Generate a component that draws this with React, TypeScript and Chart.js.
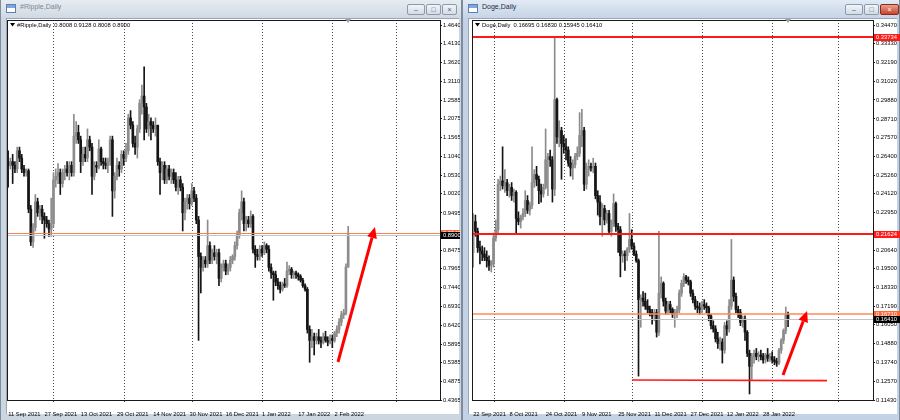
import React, { useEffect, useRef } from 'react';
import { Chart, registerables } from 'chart.js';

Chart.register(...registerables);

// ================= DATA =================
// #Ripple, Daily — one candle per day starting 11 Sep 2021
const rippleOpen = [
  1.09, 1.08, 1.09, 1.08, 1.07, 1.12, 1.10, 1.07, 1.06, 1.065,
  0.96, 0.87, 0.91, 0.98, 0.95, 0.96, 0.94, 0.93, 0.92, 0.905,
  0.92, 1.04, 1.05, 1.06, 1.03, 1.06, 1.07, 1.06, 1.08, 1.06,
  1.16, 1.17, 1.15, 1.09, 1.11, 1.10, 1.15, 1.13, 1.05, 1.08,
  1.075, 1.125, 1.09, 1.085, 1.08, 1.09, 1.15, 1.01, 1.05, 1.08,
  1.07, 1.11, 1.10, 1.12, 1.21, 1.19, 1.14, 1.13, 1.18, 1.25,
  1.27, 1.24, 1.18, 1.20, 1.19, 1.18, 1.19, 1.09, 1.06, 1.08,
  1.04, 1.07, 1.05, 1.06, 1.04, 1.02, 1.04, 1.02, 0.95, 0.98,
  0.99, 0.975, 1.01, 0.99, 0.93, 0.83, 0.80, 0.82, 0.81, 0.86,
  0.82, 0.84, 0.83, 0.84, 0.77, 0.80, 0.81, 0.79, 0.80, 0.82,
  0.83, 0.86, 0.89, 0.95, 0.98, 0.92, 0.93, 0.92, 0.94, 0.85,
  0.835, 0.83, 0.85, 0.84, 0.86, 0.85, 0.80, 0.785, 0.78, 0.76,
  0.75, 0.74, 0.755, 0.75, 0.79, 0.795, 0.78, 0.785, 0.78, 0.775,
  0.765, 0.75, 0.74, 0.63, 0.60, 0.61, 0.60, 0.61, 0.60, 0.595,
  0.61, 0.60, 0.595, 0.605, 0.60, 0.62, 0.63, 0.65, 0.67, 0.675,
  0.8008,
];
const rippleHigh = [
  1.12, 1.10, 1.11, 1.09, 1.13, 1.13, 1.11, 1.08, 1.07, 1.07,
  0.97, 0.92, 1.00, 0.99, 0.97, 0.97, 0.95, 0.94, 0.93, 0.99,
  1.06, 1.07, 1.085, 1.07, 1.07, 1.08, 1.09, 1.09, 1.09, 1.22,
  1.20, 1.19, 1.16, 1.13, 1.13, 1.18, 1.16, 1.14, 1.09, 1.09,
  1.15, 1.13, 1.10, 1.10, 1.10, 1.16, 1.16, 1.06, 1.10, 1.09,
  1.12, 1.12, 1.14, 1.22, 1.23, 1.20, 1.16, 1.19, 1.26, 1.30,
  1.35, 1.25, 1.22, 1.21, 1.20, 1.21, 1.19, 1.10, 1.09, 1.09,
  1.08, 1.08, 1.07, 1.07, 1.06, 1.05, 1.05, 1.03, 0.99, 1.00,
  1.00, 1.03, 1.02, 1.00, 0.94, 0.84, 0.83, 0.83, 0.93, 0.87,
  0.85, 0.86, 0.85, 0.85, 0.81, 0.82, 0.82, 0.81, 0.83, 0.835,
  0.87, 0.90, 0.96, 1.01, 0.99, 0.94, 0.94, 0.955, 0.945, 0.86,
  0.85, 0.86, 0.86, 0.87, 0.865, 0.86, 0.81, 0.79, 0.79, 0.77,
  0.76, 0.76, 0.77, 0.815, 0.805, 0.80, 0.79, 0.79, 0.785, 0.78,
  0.77, 0.755, 0.745, 0.64, 0.63, 0.62, 0.62, 0.63, 0.61, 0.62,
  0.625, 0.61, 0.615, 0.615, 0.625, 0.64, 0.66, 0.68, 0.685, 0.81,
  0.9128,
];
const rippleLow = [
  1.02, 1.07, 1.03, 1.06, 1.06, 1.09, 1.06, 1.05, 1.05, 0.95,
  0.86, 0.855, 0.90, 0.94, 0.93, 0.92, 0.88, 0.91, 0.885, 0.885,
  0.91, 1.02, 1.03, 1.00, 1.02, 1.04, 1.05, 1.04, 1.05, 1.05,
  1.14, 1.14, 1.06, 1.08, 1.09, 1.09, 1.12, 1.00, 1.04, 1.06,
  1.07, 1.08, 1.07, 1.07, 1.06, 1.08, 0.94, 0.99, 1.04, 1.05,
  1.06, 1.08, 1.09, 1.11, 1.18, 1.13, 1.11, 1.10, 1.17, 1.22,
  1.15, 1.17, 1.16, 1.15, 1.17, 1.16, 1.08, 1.00, 1.04, 1.03,
  1.03, 1.04, 1.03, 1.03, 1.01, 1.00, 1.01, 0.90, 0.93, 0.96,
  0.96, 0.97, 0.98, 0.92, 0.60, 0.73, 0.79, 0.80, 0.80, 0.81,
  0.81, 0.82, 0.81, 0.75, 0.76, 0.79, 0.78, 0.78, 0.79, 0.81,
  0.82, 0.85, 0.88, 0.93, 0.90, 0.90, 0.91, 0.91, 0.84, 0.80,
  0.82, 0.82, 0.83, 0.835, 0.84, 0.79, 0.77, 0.71, 0.75, 0.74,
  0.73, 0.735, 0.745, 0.745, 0.78, 0.77, 0.77, 0.77, 0.765, 0.76,
  0.745, 0.735, 0.62, 0.54, 0.58, 0.56, 0.59, 0.59, 0.58, 0.59,
  0.595, 0.585, 0.59, 0.58, 0.595, 0.61, 0.62, 0.64, 0.66, 0.67,
  0.8008,
];
const rippleClose = [
  1.08, 1.09, 1.08, 1.07, 1.12, 1.10, 1.07, 1.06, 1.065, 0.96,
  0.87, 0.91, 0.98, 0.95, 0.96, 0.94, 0.93, 0.92, 0.905, 0.92,
  1.04, 1.05, 1.06, 1.03, 1.06, 1.07, 1.06, 1.08, 1.06, 1.16,
  1.17, 1.15, 1.09, 1.11, 1.10, 1.15, 1.13, 1.05, 1.08, 1.075,
  1.125, 1.09, 1.085, 1.08, 1.09, 1.15, 1.01, 1.05, 1.08, 1.07,
  1.11, 1.10, 1.12, 1.21, 1.19, 1.14, 1.13, 1.18, 1.25, 1.27,
  1.24, 1.18, 1.20, 1.19, 1.18, 1.19, 1.09, 1.06, 1.08, 1.04,
  1.07, 1.05, 1.06, 1.04, 1.02, 1.04, 1.02, 0.95, 0.98, 0.99,
  0.975, 1.01, 0.99, 0.93, 0.83, 0.80, 0.82, 0.81, 0.86, 0.82,
  0.84, 0.83, 0.84, 0.77, 0.80, 0.81, 0.79, 0.80, 0.82, 0.83,
  0.86, 0.89, 0.95, 0.98, 0.92, 0.93, 0.92, 0.94, 0.85, 0.835,
  0.83, 0.85, 0.84, 0.86, 0.85, 0.80, 0.785, 0.78, 0.76, 0.75,
  0.74, 0.755, 0.75, 0.79, 0.795, 0.78, 0.785, 0.78, 0.775, 0.765,
  0.75, 0.74, 0.63, 0.60, 0.61, 0.60, 0.61, 0.60, 0.595, 0.61,
  0.60, 0.595, 0.605, 0.60, 0.62, 0.63, 0.65, 0.67, 0.675, 0.8008,
  0.8900,
];
const rippleDateTickLabels = ['11 Sep 2021', '27 Sep 2021', '13 Oct 2021', '29 Oct 2021', '14 Nov 2021', '30 Nov 2021', '16 Dec 2021', '1 Jan 2022', '17 Jan 2022', '2 Feb 2022'];
const rippleDateTickSlots = [0, 16, 32, 48, 64, 80, 96, 112, 128, 144];
const rippleGridSlots = [20, 51, 81, 112, 143, 171];
const ripplePriceTicks = [1.4640, 1.4130, 1.3620, 1.3110, 1.2585, 1.2075, 1.1565, 1.1040, 1.0530, 1.0020, 0.9495, 0.8475, 0.7965, 0.7440, 0.6930, 0.6420, 0.5895, 0.5385, 0.4875, 0.4365];
const rippleOrangeLine = 0.8945;
const rippleBidLine = 0.8900;
const rippleArrowFrom = [145.5, 0.5407];
const rippleArrowTo = [161.8, 0.9109];

// Doge, Daily — one candle per day starting 22 Sep 2021
const dogeOpen = [
  0.205, 0.224, 0.218, 0.208, 0.206, 0.204, 0.202, 0.2, 0.197, 0.198,
  0.214, 0.219, 0.247, 0.249, 0.246, 0.248, 0.243, 0.245, 0.24, 0.242,
  0.226, 0.224, 0.227, 0.229, 0.237, 0.231, 0.234, 0.248, 0.253, 0.25,
  0.243, 0.241, 0.245, 0.262, 0.264, 0.262, 0.244, 0.299, 0.276, 0.28,
  0.272, 0.27, 0.268, 0.26, 0.257, 0.259, 0.264, 0.266, 0.277, 0.28,
  0.247, 0.256, 0.258, 0.257, 0.258, 0.24, 0.236, 0.227, 0.232, 0.225,
  0.229, 0.218, 0.223, 0.235, 0.221, 0.219, 0.203, 0.204, 0.203, 0.207,
  0.213, 0.209, 0.204, 0.2, 0.176, 0.177, 0.175, 0.172, 0.17, 0.168,
  0.166, 0.168, 0.156, 0.18, 0.186, 0.175, 0.169, 0.173, 0.17, 0.167,
  0.168, 0.17, 0.18, 0.186, 0.19, 0.188, 0.187, 0.18, 0.176, 0.172,
  0.171, 0.17, 0.173, 0.172, 0.171, 0.166, 0.16, 0.158, 0.152, 0.149,
  0.15, 0.145, 0.16, 0.158, 0.172, 0.188, 0.178, 0.17, 0.168, 0.162,
  0.164, 0.156, 0.143, 0.135, 0.141, 0.143, 0.141, 0.142, 0.141, 0.139,
  0.142, 0.14, 0.141, 0.139, 0.138, 0.137, 0.145, 0.151, 0.157, 0.16695,
];
const dogeHigh = [
  0.229, 0.228, 0.22, 0.212, 0.209, 0.208, 0.206, 0.203, 0.2, 0.217,
  0.225, 0.25, 0.252, 0.27, 0.256, 0.25, 0.247, 0.248, 0.244, 0.243,
  0.23, 0.228, 0.232, 0.243, 0.24, 0.236, 0.27, 0.256, 0.258, 0.252,
  0.247, 0.247, 0.281, 0.266, 0.268, 0.264, 0.337, 0.30, 0.286, 0.282,
  0.277, 0.275, 0.27, 0.264, 0.262, 0.266, 0.27, 0.291, 0.293, 0.282,
  0.26, 0.262, 0.26, 0.263, 0.26, 0.243, 0.24, 0.235, 0.234, 0.231,
  0.231, 0.225, 0.241, 0.236, 0.223, 0.221, 0.206, 0.206, 0.208, 0.229,
  0.219, 0.211, 0.206, 0.201, 0.179, 0.181, 0.18, 0.176, 0.172, 0.17,
  0.17, 0.17, 0.218, 0.19, 0.187, 0.177, 0.175, 0.175, 0.171, 0.17,
  0.172, 0.182, 0.188, 0.192, 0.191, 0.19, 0.188, 0.182, 0.178, 0.175,
  0.174, 0.175, 0.176, 0.174, 0.172, 0.167, 0.163, 0.16, 0.156, 0.153,
  0.152, 0.162, 0.163, 0.176, 0.213, 0.19, 0.18, 0.172, 0.17, 0.166,
  0.166, 0.157, 0.145, 0.143, 0.145, 0.146, 0.144, 0.145, 0.143, 0.143,
  0.146, 0.143, 0.144, 0.141, 0.14, 0.146, 0.152, 0.158, 0.1715, 0.1683,
];
const dogeLow = [
  0.196, 0.215, 0.205, 0.198, 0.2, 0.2, 0.196, 0.194, 0.193, 0.196,
  0.212, 0.217, 0.243, 0.244, 0.242, 0.24, 0.239, 0.237, 0.236, 0.217,
  0.222, 0.22, 0.225, 0.227, 0.229, 0.228, 0.232, 0.245, 0.246, 0.235,
  0.236, 0.239, 0.244, 0.24, 0.258, 0.236, 0.24, 0.272, 0.27, 0.25,
  0.266, 0.262, 0.258, 0.252, 0.25, 0.257, 0.262, 0.264, 0.27, 0.243,
  0.244, 0.252, 0.255, 0.254, 0.238, 0.228, 0.222, 0.215, 0.222, 0.223,
  0.216, 0.215, 0.221, 0.218, 0.205, 0.19, 0.199, 0.194, 0.2, 0.205,
  0.207, 0.203, 0.199, 0.129, 0.159, 0.172, 0.17, 0.168, 0.166, 0.161,
  0.163, 0.153, 0.154, 0.177, 0.172, 0.167, 0.167, 0.168, 0.165, 0.159,
  0.165, 0.168, 0.178, 0.184, 0.186, 0.185, 0.178, 0.174, 0.17, 0.168,
  0.167, 0.168, 0.17, 0.168, 0.163, 0.158, 0.156, 0.15, 0.146, 0.145,
  0.137, 0.143, 0.154, 0.156, 0.17, 0.175, 0.168, 0.165, 0.16, 0.159,
  0.151, 0.141, 0.118, 0.127, 0.137, 0.139, 0.138, 0.139, 0.137, 0.137,
  0.138, 0.138, 0.137, 0.136, 0.135, 0.136, 0.143, 0.149, 0.155, 0.15945,
];
const dogeClose = [
  0.224, 0.218, 0.208, 0.206, 0.204, 0.202, 0.2, 0.197, 0.198, 0.214,
  0.219, 0.247, 0.249, 0.246, 0.248, 0.243, 0.245, 0.24, 0.242, 0.226,
  0.224, 0.227, 0.229, 0.237, 0.231, 0.234, 0.248, 0.253, 0.25, 0.243,
  0.241, 0.245, 0.262, 0.264, 0.262, 0.244, 0.299, 0.276, 0.28, 0.272,
  0.27, 0.268, 0.26, 0.257, 0.259, 0.264, 0.266, 0.277, 0.28, 0.247,
  0.256, 0.258, 0.257, 0.258, 0.24, 0.236, 0.227, 0.232, 0.225, 0.229,
  0.218, 0.223, 0.235, 0.221, 0.219, 0.203, 0.204, 0.203, 0.207, 0.213,
  0.209, 0.204, 0.2, 0.176, 0.177, 0.175, 0.172, 0.17, 0.168, 0.166,
  0.168, 0.156, 0.18, 0.186, 0.175, 0.169, 0.173, 0.17, 0.167, 0.168,
  0.17, 0.18, 0.186, 0.19, 0.188, 0.187, 0.18, 0.176, 0.172, 0.171,
  0.17, 0.173, 0.172, 0.171, 0.166, 0.16, 0.158, 0.152, 0.149, 0.15,
  0.145, 0.16, 0.158, 0.172, 0.188, 0.178, 0.17, 0.168, 0.162, 0.164,
  0.156, 0.143, 0.135, 0.141, 0.143, 0.141, 0.142, 0.141, 0.139, 0.142,
  0.14, 0.141, 0.139, 0.138, 0.137, 0.145, 0.151, 0.157, 0.16695, 0.1641,
];
const dogeDateTickLabels = ['22 Sep 2021', '8 Oct 2021', '24 Oct 2021', '9 Nov 2021', '25 Nov 2021', '11 Dec 2021', '27 Dec 2021', '12 Jan 2022', '28 Jan 2022'];
const dogeDateTickSlots = [0, 16, 32, 48, 64, 80, 96, 112, 128];
const dogeGridSlots = [9, 40, 70, 101, 132, 161];
const dogePriceTicks = [0.34470, 0.33330, 0.32190, 0.31020, 0.29880, 0.28710, 0.27570, 0.26400, 0.25260, 0.24120, 0.22950, 0.20640, 0.19500, 0.18330, 0.17190, 0.16050, 0.14880, 0.13740, 0.12570, 0.11430];
const dogeResistanceHigh = 0.33734;
const dogeResistanceMid = 0.21624;
const dogeOrangeLine = 0.16710;
const dogeBidLine = 0.16410;
const dogeSupportFrom = [70.1, 0.1266];
const dogeSupportTo = [156.2, 0.1262];
const dogeArrowFrom = [136.8, 0.1297];
const dogeArrowTo = [147.4, 0.1690];

// ================= STYLE / LAYOUT =================
const FONT = '"Liberation Sans", Arial, sans-serif';
const AXIS_FONT_SIZE = 5.8;
const BULL = '#8c8c8c';
const BEAR = '#151515';

type Level = { value: number; color: string; width: number; box?: string; text?: string };
type Seg = { from: number[]; to: number[]; color: string; width: number };

type Spec = {
  name: string;
  open: number[]; high: number[]; low: number[]; close: number[];
  decimals: number;
  yMin: number; yMax: number; yTicks: number[];
  slots: number; tickSlots: number[]; tickLabels: string[]; gridSlots: number[];
  levels: Level[];
  segments: Seg[];
  arrow: { from: number[]; to: number[] };
  canvasLeft: number; canvasWidth: number; padLeft: number; yWidth: number;
};

const rippleSpec: Spec = {
  name: '#Ripple,Daily',
  open: rippleOpen, high: rippleHigh, low: rippleLow, close: rippleClose,
  decimals: 4,
  yMin: 0.4365, yMax: 1.4785, yTicks: ripplePriceTicks,
  slots: 191, tickSlots: rippleDateTickSlots, tickLabels: rippleDateTickLabels, gridSlots: rippleGridSlots,
  levels: [
    { value: rippleOrangeLine, color: '#ff7f50', width: 1, box: '#ff6a3a', text: rippleOrangeLine.toFixed(4) },
    { value: rippleBidLine, color: '#c4c4c4', width: 1, box: '#000000', text: rippleBidLine.toFixed(4) },
  ],
  segments: [],
  arrow: { from: rippleArrowFrom, to: rippleArrowTo },
  canvasLeft: 0, canvasWidth: 460, padLeft: 7, yWidth: 20,
};

const dogeSpec: Spec = {
  name: 'Doge,Daily',
  open: dogeOpen, high: dogeHigh, low: dogeLow, close: dogeClose,
  decimals: 5,
  yMin: 0.1143, yMax: 0.34796, yTicks: dogePriceTicks,
  slots: 177, tickSlots: dogeDateTickSlots, tickLabels: dogeDateTickLabels, gridSlots: dogeGridSlots,
  levels: [
    { value: dogeResistanceHigh, color: '#ff1a1a', width: 2, box: '#ff1a1a', text: dogeResistanceHigh.toFixed(5) },
    { value: dogeResistanceMid, color: '#ff1a1a', width: 2, box: '#ff1a1a', text: dogeResistanceMid.toFixed(5) },
    { value: dogeOrangeLine, color: '#ff8a5c', width: 1.5, box: '#ff6a3a', text: dogeOrangeLine.toFixed(5) },
    { value: dogeBidLine, color: '#c4c4c4', width: 1, box: '#000000', text: dogeBidLine.toFixed(5) },
  ],
  segments: [{ from: dogeSupportFrom, to: dogeSupportTo, color: '#ff1a1a', width: 1.6 }],
  arrow: { from: dogeArrowFrom, to: dogeArrowTo },
  canvasLeft: 462, canvasWidth: 438, padLeft: 10, yWidth: 27,
};

function drawArrow(ctx: CanvasRenderingContext2D, x1: number, y1: number, x2: number, y2: number) {
  const ang = Math.atan2(y2 - y1, x2 - x1);
  const head = 11, hw = 5;
  const bx = x2 - head * Math.cos(ang), by = y2 - head * Math.sin(ang);
  ctx.save();
  ctx.strokeStyle = '#ff0000';
  ctx.fillStyle = '#ff0000';
  ctx.lineWidth = 3;
  ctx.beginPath();
  ctx.moveTo(x1, y1);
  ctx.lineTo(bx, by);
  ctx.stroke();
  ctx.beginPath();
  ctx.moveTo(x2, y2);
  ctx.lineTo(bx + hw * Math.sin(ang), by - hw * Math.cos(ang));
  ctx.lineTo(bx - hw * Math.sin(ang), by + hw * Math.cos(ang));
  ctx.closePath();
  ctx.fill();
  ctx.restore();
}

function makeOverlay(spec: Spec) {
  return {
    id: 'mt4overlay',
    beforeDatasetsDraw(chart: any) {
      const { ctx, chartArea: a, scales } = chart;
      const x = scales.x;
      ctx.save();
      ctx.strokeStyle = '#4a4a4a';
      ctx.lineWidth = 1;
      ctx.setLineDash([1, 2]);
      spec.gridSlots.forEach((s) => {
        const px = Math.round(x.getPixelForValue(s)) + 0.5;
        ctx.beginPath();
        ctx.moveTo(px, a.top);
        ctx.lineTo(px, a.bottom + 4);
        ctx.stroke();
      });
      ctx.restore();
    },
    afterDatasetsDraw(chart: any) {
      const { ctx, chartArea: a, scales } = chart;
      const x = scales.x, y = scales.y;
      ctx.save();
      spec.levels.forEach((l) => {
        const py = Math.round(y.getPixelForValue(l.value)) + (l.width % 2 === 1 ? 0.5 : 0);
        ctx.strokeStyle = l.color;
        ctx.lineWidth = l.width;
        ctx.beginPath();
        ctx.moveTo(a.left, py);
        ctx.lineTo(a.right, py);
        ctx.stroke();
      });
      spec.segments.forEach((s) => {
        ctx.strokeStyle = s.color;
        ctx.lineWidth = s.width;
        ctx.beginPath();
        ctx.moveTo(x.getPixelForValue(s.from[0]), y.getPixelForValue(s.from[1]));
        ctx.lineTo(x.getPixelForValue(s.to[0]), y.getPixelForValue(s.to[1]));
        ctx.stroke();
      });
      ctx.restore();
      drawArrow(ctx,
        x.getPixelForValue(spec.arrow.from[0]), y.getPixelForValue(spec.arrow.from[1]),
        x.getPixelForValue(spec.arrow.to[0]), y.getPixelForValue(spec.arrow.to[1]));
    },
    afterDraw(chart: any) {
      const { ctx, chartArea: a, scales, width } = chart;
      const x = scales.x, y = scales.y;
      ctx.save();
      // frame
      ctx.strokeStyle = '#1a1a1a';
      ctx.lineWidth = 1;
      ctx.strokeRect(Math.round(a.left) + 0.5, Math.round(a.top) + 0.5, Math.round(a.right - a.left), Math.round(a.bottom - a.top));
      // price boxes on the scale
      ctx.font = `${AXIS_FONT_SIZE}px ${FONT}`;
      ctx.textBaseline = 'middle';
      ctx.textAlign = 'left';
      spec.levels.forEach((l) => {
        if (!l.box) return;
        const py = y.getPixelForValue(l.value);
        ctx.fillStyle = l.box;
        ctx.fillRect(a.right + 1, Math.round(py - 3), width - a.right - 1, 7);
        ctx.fillStyle = '#ffffff';
        ctx.fillText(l.text || '', a.right + 3, Math.round(py) + 0.5);
      });
      // header text
      const n = spec.close.length - 1;
      const d = spec.decimals;
      const header = `${spec.name}  ${spec.open[n].toFixed(d)} ${spec.high[n].toFixed(d)} ${spec.low[n].toFixed(d)} ${spec.close[n].toFixed(d)}`;
      ctx.fillStyle = '#000';
      ctx.beginPath();
      ctx.moveTo(a.left + 3, a.top + 3);
      ctx.lineTo(a.left + 8, a.top + 3);
      ctx.lineTo(a.left + 5.5, a.top + 6.5);
      ctx.closePath();
      ctx.fill();
      ctx.fillText(header, a.left + 10, a.top + 5);
      // shift marker at the last bar
      const mx = x.getPixelForValue(n);
      ctx.fillStyle = '#a0a0a0';
      ctx.beginPath();
      ctx.moveTo(mx - 3, a.top - 1);
      ctx.lineTo(mx + 3, a.top - 1);
      ctx.lineTo(mx, a.top + 3);
      ctx.closePath();
      ctx.fill();
      ctx.restore();
    },
  };
}

function CandleChart({ spec }: { spec: Spec }) {
  const ref = useRef<HTMLCanvasElement>(null);
  useEffect(() => {
    const labels: string[] = Array.from({ length: spec.slots }, () => '');
    spec.tickSlots.forEach((s, k) => { labels[s] = spec.tickLabels[k]; });
    const wicks = spec.low.map((l, i) => [l, spec.high[i]]);
    const bodies = spec.open.map((o, i) => [o, spec.close[i]]);
    const colorAt = (ctx: any) => (spec.close[ctx.dataIndex] >= spec.open[ctx.dataIndex] ? BULL : BEAR);
    const chart = new Chart(ref.current as HTMLCanvasElement, {
      type: 'bar',
      data: {
        labels,
        datasets: [
          { data: wicks as any, backgroundColor: colorAt, barThickness: 1, grouped: false, borderWidth: 0, order: 2 } as any,
          { data: bodies as any, backgroundColor: colorAt, barThickness: 2, grouped: false, borderWidth: 0, minBarLength: 1, order: 1 } as any,
        ],
      },
      options: {
        animation: false,
        responsive: false,
        maintainAspectRatio: false,
        layout: { padding: { left: spec.padLeft, top: 20, right: 0, bottom: 0 } },
        plugins: { legend: { display: false }, tooltip: { enabled: false }, title: { display: false } },
        scales: {
          x: {
            type: 'category',
            offset: true,
            grid: { display: false },
            border: { display: true, color: '#1a1a1a' },
            ticks: {
              autoSkip: false, maxRotation: 0, minRotation: 0, align: 'start', padding: 3,
              color: '#000', font: { size: AXIS_FONT_SIZE, family: FONT },
            },
            afterFit: (s: any) => { s.height = 20; },
          },
          y: {
            type: 'linear',
            position: 'right',
            min: spec.yMin,
            max: spec.yMax,
            afterBuildTicks: (s: any) => { s.ticks = spec.yTicks.map((v) => ({ value: v })); },
            grid: { display: true, drawOnChartArea: false, drawTicks: true, tickLength: 2, color: '#1a1a1a' },
            border: { display: true, color: '#1a1a1a' },
            ticks: {
              padding: 1, color: '#000', font: { size: AXIS_FONT_SIZE, family: FONT },
              callback: (v: any) => Number(v).toFixed(spec.decimals),
            },
            afterFit: (s: any) => { s.width = spec.yWidth; },
          },
        },
      } as any,
      plugins: [makeOverlay(spec) as any],
    });
    return () => chart.destroy();
  }, [spec]);
  return (
    <canvas
      ref={ref}
      width={spec.canvasWidth}
      height={420}
      style={{ position: 'absolute', left: spec.canvasLeft, top: 0, width: spec.canvasWidth, height: 420 }}
    />
  );
}

function Btn({ left, w, red, glyph }: { left: number; w: number; red?: boolean; glyph: string }) {
  return (
    <div style={{
      position: 'absolute', left, top: 4, width: w, height: 11, boxSizing: 'border-box',
      border: red ? '1px solid #8a2a1e' : '1px solid #8e9aab', borderRadius: 2,
      background: red ? 'linear-gradient(#e9a08e, #c9452c)' : 'linear-gradient(#f2f5f9, #d3dbe5)',
      color: red ? '#fff' : '#555', fontSize: 7, lineHeight: '9px', textAlign: 'center', fontFamily: FONT,
    }}>{glyph}</div>
  );
}

function WindowFrame({ left, width, title, active }: { left: number; width: number; title: string; active: boolean }) {
  return (
    <div style={{
      position: 'absolute', left, top: 0, width, height: 420, boxSizing: 'border-box',
      background: active ? '#c3d2e4' : '#ccd6e1', borderLeft: '1px solid #7d8b9d', borderRight: '1px solid #7d8b9d',
    }}>
      <div style={{ position: 'absolute', left: 0, right: 0, top: 0, height: 18, background: active ? 'linear-gradient(#e1eaf5, #c6d4e6)' : 'linear-gradient(#e6ecf2, #d0d9e3)' }}>
        <div style={{ position: 'absolute', left: 5, top: 4, width: 10, height: 9, boxSizing: 'border-box', border: '1px solid #5b7fb0', background: 'linear-gradient(#7fa7d8 0 3px, #ffffff 3px)' }} />
        <div style={{ position: 'absolute', left: 19, top: 3, fontSize: 7, fontFamily: FONT, color: active ? '#1c2c44' : '#7c8796' }}>{title}</div>
        <Btn left={width - 56} w={18} glyph="–" />
        <Btn left={width - 37} w={15} glyph="□" />
        <Btn left={width - 21} w={active ? 19 : 15} red={active} glyph="×" />
      </div>
      <div style={{ position: 'absolute', left: 5, right: 2, top: 18, bottom: 6, background: '#ffffff', borderTop: '1px solid #9aa5b3', borderLeft: '1px solid #9aa5b3' }} />
    </div>
  );
}

export default function App() {
  return (
    <div style={{ position: 'fixed', left: 0, top: 0, width: 900, height: 420, background: '#a9b5c4', overflow: 'hidden' }}>
      <WindowFrame left={0} width={462} title="#Ripple,Daily" active={false} />
      <WindowFrame left={462} width={438} title="Doge,Daily" active={true} />
      <CandleChart spec={rippleSpec} />
      <CandleChart spec={dogeSpec} />
    </div>
  );
}
